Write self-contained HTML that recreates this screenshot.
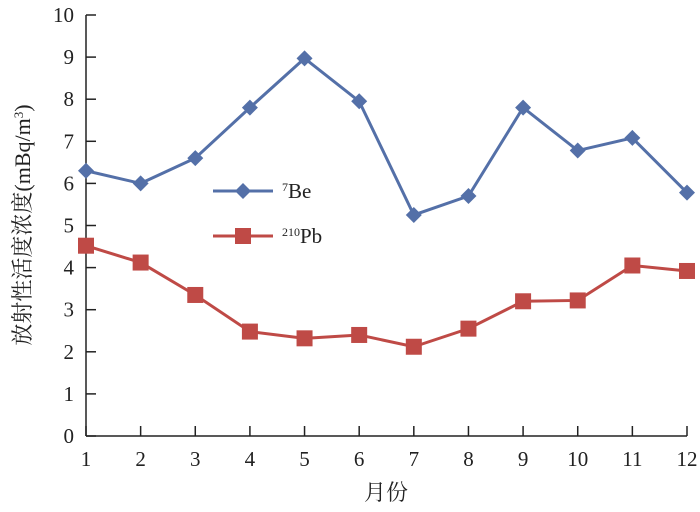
<!DOCTYPE html>
<html><head><meta charset="utf-8"><style>
body{margin:0;background:#fff}
svg text{font-family:"Liberation Serif","Noto Serif CJK SC",serif;fill:#222}
</style></head><body>
<svg id="c" width="700" height="507" xmlns="http://www.w3.org/2000/svg"></svg>
<script>
const months=[1,2,3,4,5,6,7,8,9,10,11,12];
const beValues=[6.3,6.0,6.6,7.8,8.97,7.95,5.25,5.7,7.8,6.78,7.08,5.78];
const pbValues=[4.52,4.12,3.35,2.48,2.32,2.4,2.12,2.55,3.2,3.22,4.05,3.92];
const yTicks=[0,1,2,3,4,5,6,7,8,9,10];
const NS="http://www.w3.org/2000/svg";
const svg=document.getElementById('c');
const x0=86,x1=687,y0=436,y1=15;
const xs=m=>x0+(m-1)*(x1-x0)/11;
const ys=v=>y0-v*(y0-y1)/10;
function mk(t,a,p){const e=document.createElementNS(NS,t);for(const k in a)e.setAttribute(k,a[k]);(p||svg).appendChild(e);return e;}
const ax=mk('g',{});


mk('line',{x1:x0,y1:y0,x2:x1,y2:y0,stroke:'#222','stroke-width':1.5},ax);
mk('line',{x1:x0,y1:y0,x2:x0,y2:y1,stroke:'#222','stroke-width':1.5},ax);
yTicks.forEach(v=>{
 mk('line',{x1:x0,y1:ys(v),x2:x0+10,y2:ys(v),stroke:'#222','stroke-width':1.5},ax);
 const t=mk('text',{x:x0-12,y:ys(v)+7,'text-anchor':'end','font-size':21},ax);t.textContent=v;
 
 
});
months.forEach(m=>{
 mk('line',{x1:xs(m),y1:y0,x2:xs(m),y2:y0-10,stroke:'#222','stroke-width':1.5},ax);
 const t=mk('text',{x:xs(m),y:y0+30,'text-anchor':'middle','font-size':21},ax);t.textContent=m;
 
 
});
const xt=mk('text',{x:386,y:500,'text-anchor':'middle','font-size':22});xt.textContent='月份';


const yt=mk('text',{x:0,y:0,'text-anchor':'middle','font-size':22,transform:'translate(30,225) rotate(-90)'});yt.innerHTML='放射性活度浓度(mBq/m<tspan baseline-shift="super" font-size="13">3</tspan>)';


function series(vals,color,shape,name){
 const g=mk('g',{});
 
 
 mk('polyline',{points:vals.map((v,i)=>xs(months[i])+','+ys(v)).join(' '),fill:'none',stroke:color,'stroke-width':3},g);
 vals.forEach((v,i)=>{
  const cx=xs(months[i]),cy=ys(v);let e;
  if(shape==='d')e=mk('polygon',{points:`${cx},${cy-8} ${cx+8},${cy} ${cx},${cy+8} ${cx-8},${cy}`,fill:color},g);
  else e=mk('rect',{x:cx-8,y:cy-8,width:16,height:16,fill:color},g);
  
  
 });
}
series(beValues,'#5470a8','d','be7');
series(pbValues,'#bf4a46','s','pb210');
const lg=mk('g',{});


mk('line',{x1:213,y1:191,x2:273,y2:191,stroke:'#5470a8','stroke-width':3},lg);
mk('polygon',{points:'243,183 251,191 243,199 235,191',fill:'#5470a8'},lg);
let t=mk('text',{x:282,y:198,'font-size':21},lg);t.innerHTML='<tspan baseline-shift="super" font-size="12">7</tspan>Be';
mk('line',{x1:213,y1:236,x2:273,y2:236,stroke:'#bf4a46','stroke-width':3},lg);
mk('rect',{x:235,y:228,width:16,height:16,fill:'#bf4a46'},lg);
t=mk('text',{x:282,y:243,'font-size':21},lg);t.innerHTML='<tspan baseline-shift="super" font-size="12">210</tspan>Pb';
</script>
</body></html>
